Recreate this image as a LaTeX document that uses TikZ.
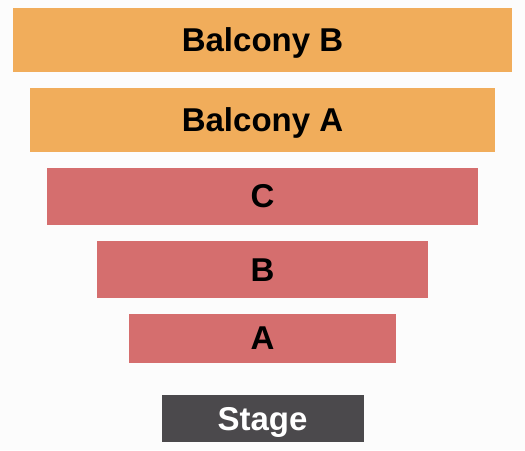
\documentclass[tikz,border=0pt]{standalone}
\usepackage{fontspec}
\setmainfont{Liberation Sans}
\usetikzlibrary{positioning}
\definecolor{balconyorange}{HTML}{F1AD5B}
\definecolor{floorred}{HTML}{D56E6E}
\definecolor{stagegray}{HTML}{4B494C}
\tikzset{
  section/.style={rectangle, inner sep=0pt, text height=23.6pt, text depth=0pt,
                  font=\fontsize{33}{37}\selectfont\bfseries, align=center},
  balcony/.style={section, fill=balconyorange, text=black},
  floor/.style={section, fill=floorred, text=black},
  stage/.style={section, fill=stagegray, text=white},
}

\begin{document}
\begin{tikzpicture}[x=1pt, y=1pt]
  \fill[white!99!black] (0,0) rectangle (525,-450);
  \useasboundingbox (0,0) rectangle (525,-450);

  \node[balcony, minimum width=499pt, minimum height=64pt] (balB) at (262.5,-40) {Balcony B};
  \node[balcony, minimum width=465pt, minimum height=63.5pt] (balA) [below=16pt of balB] {Balcony A};
  \node[floor, minimum width=431pt, minimum height=57pt] (secC) [below=15.3pt of balA] {C};
  \node[floor, minimum width=331pt, minimum height=56.6pt] (secB) [below=16.4pt of secC] {B};
  \node[floor, minimum width=267pt, minimum height=48.7pt] (secA) [below=15.4pt of secB] {A};
  \node[stage, minimum width=202pt, minimum height=47pt] (stage) [below=32.5pt of secA] {Stage};

\end{tikzpicture}
\end{document}
